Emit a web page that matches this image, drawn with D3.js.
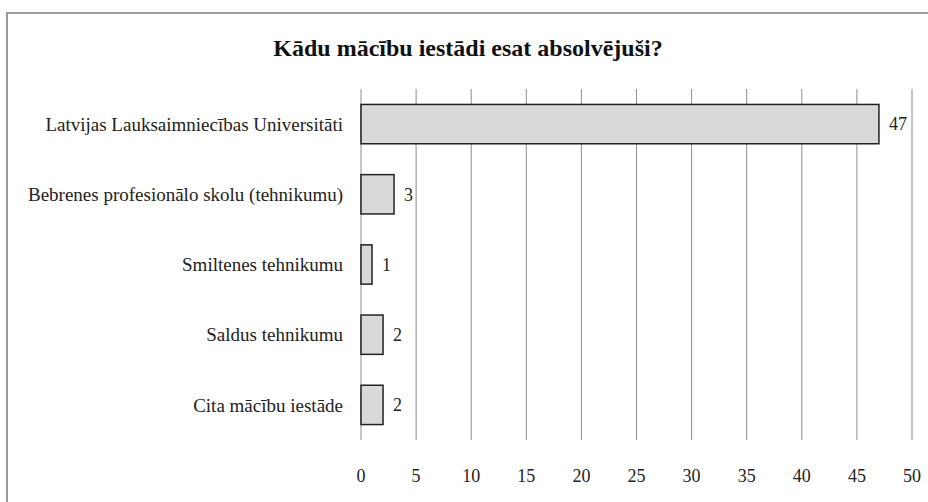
<!DOCTYPE html>
<html>
<head>
<meta charset="utf-8">
<script src="https://cdn.jsdelivr.net/npm/d3@7"></script>
<style>
  body { margin: 0; background: #fff; }
  svg { display: block; }
</style>
</head>
<body>
<div class="chart-area"></div>
<script>
const title = "Kādu mācību iestādi esat absolvējuši?";
const categories = [
  "Latvijas Lauksaimniecības Universitāti",
  "Bebrenes profesionālo skolu (tehnikumu)",
  "Smiltenes tehnikumu",
  "Saldus tehnikumu",
  "Cita mācību iestāde"
];
const values = [47, 3, 1, 2, 2];
const tickValues = [0, 5, 10, 15, 20, 25, 30, 35, 40, 45, 50];

let width = 928,
  height = 502,
  margin = {top: 89, right: 16, bottom: 62, left: 361},
  serif = "'Liberation Serif', 'Times New Roman', 'DejaVu Serif', serif";

let svg = d3.select("div.chart-area").append("svg")
  .attr("width", width)
  .attr("height", height)
  .attr("font-family", serif);

// outer frame
svg.append("rect")
  .attr("x", 7)
  .attr("y", 13)
  .attr("width", width + 10)
  .attr("height", height + 10)
  .attr("fill", "#fff")
  .attr("stroke", "#9a9a9a")
  .attr("stroke-width", 2);

let x = d3.scaleLinear()
  .domain([0, 50])
  .range([margin.left, width - margin.right]);

let y = d3.scaleBand()
  .domain(categories)
  .range([margin.top, height - margin.bottom])
  .paddingInner(0.44)
  .paddingOuter(0.22);

svg.append("text")
  .attr("x", 468)
  .attr("y", 56)
  .attr("text-anchor", "middle")
  .attr("font-family", serif)
  .attr("font-size", 24)
  .attr("font-weight", "bold")
  .attr("fill", "#111")
  .text(title);

// vertical gridlines
svg.append("g")
  .selectAll("line")
  .data(tickValues)
  .enter().append("line")
  .attr("x1", d => x(d))
  .attr("x2", d => x(d))
  .attr("y1", margin.top)
  .attr("y2", height - margin.bottom)
  .attr("stroke", "#8c8c8c")
  .attr("stroke-width", 1);

// tick labels
svg.append("g")
  .selectAll("text")
  .data(tickValues)
  .enter().append("text")
  .attr("x", d => x(d))
  .attr("y", 476)
  .attr("dy", "0.35em")
  .attr("text-anchor", "middle")
  .attr("font-family", serif)
  .attr("font-size", 18)
  .attr("fill", "#222")
  .text(d => d);

let rows = svg.selectAll(".row")
  .data(categories.map((c, i) => ({cat: c, value: values[i]})))
  .enter().append("g")
  .attr("class", "row");

rows.append("rect")
  .attr("x", x(0))
  .attr("y", d => y(d.cat))
  .attr("width", d => x(d.value) - x(0))
  .attr("height", y.bandwidth())
  .attr("fill", "#d9d9d9")
  .attr("stroke", "#222")
  .attr("stroke-width", 1.5);

rows.append("text")
  .attr("x", x(0) - 18)
  .attr("y", d => y(d.cat) + y.bandwidth() / 2)
  .attr("dy", "0.35em")
  .attr("text-anchor", "end")
  .attr("font-family", serif)
  .attr("font-size", 19)
  .attr("fill", "#222")
  .text(d => d.cat);

rows.append("text")
  .attr("x", d => x(d.value) + 10)
  .attr("y", d => y(d.cat) + y.bandwidth() / 2)
  .attr("dy", "0.35em")
  .attr("font-family", serif)
  .attr("font-size", 18)
  .attr("fill", "#222")
  .text(d => d.value);
</script>
</body>
</html>
